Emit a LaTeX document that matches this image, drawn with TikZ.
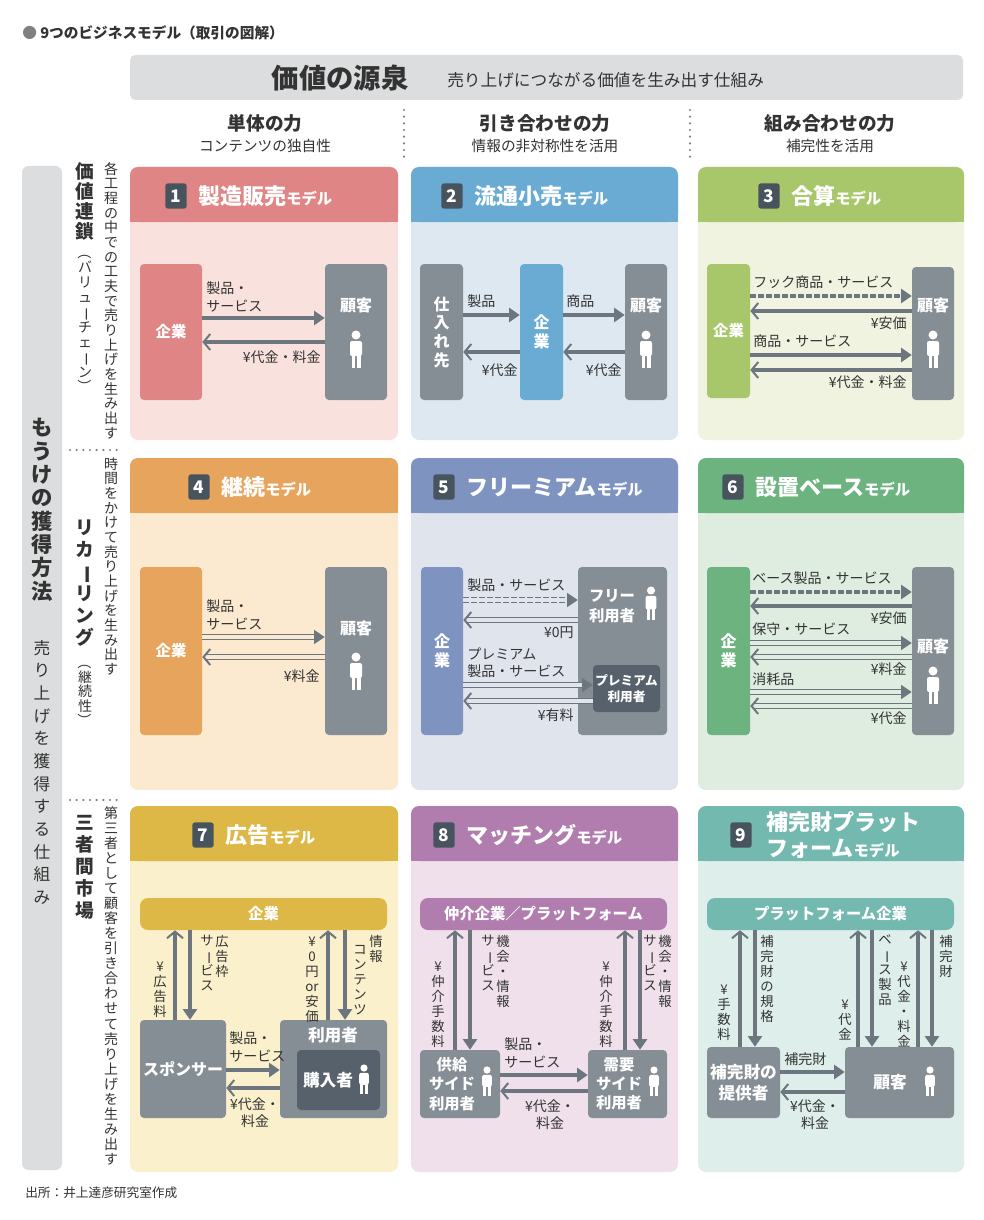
\documentclass[tikz,border=0pt]{standalone}
\usepackage{fontspec}
\usepackage{graphicx}
\setmainfont{Noto Sans CJK JP}
\usetikzlibrary{arrows.meta}
\definecolor{txt}{HTML}{333333}
\definecolor{gbar}{HTML}{DCDDDE}
\definecolor{gbx}{HTML}{858E95}
\definecolor{arc}{HTML}{6D767E}
\definecolor{bdg}{HTML}{47535D}
\definecolor{dk}{HTML}{56616B}
\definecolor{h1}{HTML}{E08585}\definecolor{b1}{HTML}{F9E2DE}
\definecolor{h2}{HTML}{6AABD4}\definecolor{b2}{HTML}{DDE8F0}
\definecolor{h3}{HTML}{A8C66A}\definecolor{b3}{HTML}{EFF3E0}
\definecolor{h4}{HTML}{E6A45C}\definecolor{b4}{HTML}{FBE9D0}
\definecolor{h5}{HTML}{7F93C0}\definecolor{b5}{HTML}{E0E4ED}
\definecolor{h6}{HTML}{6CB37F}\definecolor{b6}{HTML}{DEEDE0}
\definecolor{h7}{HTML}{DDB846}\definecolor{b7}{HTML}{FBF0CC}
\definecolor{h8}{HTML}{B07DAE}\definecolor{b8}{HTML}{EFE0EB}
\definecolor{h9}{HTML}{73B9AF}\definecolor{b9}{HTML}{DEEEEA}
\ExplSyntaxOn
\bool_new:N \g_my_first_bool
\NewDocumentCommand\vt{m}{
 \bool_gset_true:N \g_my_first_bool
 \tl_map_inline:nn {#1} {
  \bool_if:NF \g_my_first_bool {\\}
  \bool_gset_false:N \g_my_first_bool
  \str_case:nnF {##1} { {ー}{\rotatebox[origin=c]{-90}{ー}} {（}{\rotatebox[origin=c]{-90}{（}} {）}{\rotatebox[origin=c]{-90}{）}} } {##1}
 }
}
\ExplSyntaxOff
\newcommand\mdl{{\fontsize{11.5}{13}\selectfont モデル}}
\newcommand\bx[7]{\node[#6, minimum width={(#4-#2)*0.75pt}, minimum height={(#5-#3)*0.75pt}] (#1) at ({(#2+#4)/2},{(#3+#5)/2}) {#7};}
\tikzset{
 bxs/.style={rounded corners=3pt, inner sep=0pt, text=white, font=\bfseries\fontsize{11.5}{13}\selectfont, align=center},
 bt/.style={inner sep=0pt, text=white, font=\bfseries\fontsize{12}{14}\selectfont, align=center},
 lab/.style={inner sep=0pt, font=\fontsize{10.5}{13}\selectfont, text=txt, align=left},
 vlab/.style={inner sep=0pt, anchor=north, font=\fontsize{10}{11.2}\selectfont, text=txt, align=center},
 arr/.style={draw=arc, line width=3pt},
 rt/.style={-{Triangle[length=8pt,width=10.5pt]}},
 lt/.style={{Straight Barb[length=5pt,width=12pt,line width=1.5pt]}-},
 dbl/.style={line width=1.1pt, double=#1, double distance=2.6pt},
 dsh/.style={dash pattern=on 4pt off 2pt},
 ttl/.style={inner sep=0pt, anchor=west, text=white, font=\bfseries\fontsize{16.5}{19}\selectfont, align=left},
 badge/.style={fill=bdg, text=white, font=\bfseries\fontsize{13}{15}\selectfont, minimum width=16pt, minimum height=19pt, rounded corners=2pt, inner sep=0pt},
 person/.pic={\fill[white] (0,-15) circle (4.5); \fill[white,rounded corners=1.5] (-6,-9) rectangle (6,6); \fill[white] (-4.5,4) rectangle (-1,18); \fill[white] (1,4) rectangle (4.5,18);},
 dots/.style={draw=gray, line width=1.8pt, dash pattern=on 0pt off 5pt, line cap=round},
}
\newcommand\panel[6]{%
 \fill[#6, rounded corners=6] (#1,#2) rectangle (#3,#5);
 \fill[#4!100, rounded corners=6] (#1,#2) rectangle (#3,#2+55);
 \fill[#4] (#1,#2+30) rectangle (#3,#2+55);}
\begin{document}
\begin{tikzpicture}[x=0.75pt,y=-0.75pt]
\useasboundingbox (0,0) rectangle (984,1220);
\fill[white] (0,0) rectangle (984,1220);
% title
\node[anchor=west, inner sep=0pt, font=\bfseries\fontsize{11}{13}\selectfont, text=txt] (ttl) at (22,33) {{\color{gray}●} 9つのビジネスモデル（取引の図解）};
% header
\fill[gbar, rounded corners=4] (130,55) rectangle (963,100);
\node[inner sep=0pt, font=\bfseries\fontsize{20.5}{23}\selectfont, text=txt] (hd1) at (340,78) {価値の源泉};
\node[anchor=west, inner sep=0pt, font=\fontsize{12.5}{15}\selectfont, text=txt] (hd2) at (447,80) {売り上げにつながる価値を生み出す仕組み};
\node[inner sep=0pt, font=\bfseries\fontsize{14}{16}\selectfont, text=txt] (c1a) at (265,123) {単体の力};
\node[inner sep=0pt, font=\fontsize{11}{13}\selectfont, text=txt] (c1b) at (265,146) {コンテンツの独自性};
\node[inner sep=0pt, font=\bfseries\fontsize{14}{16}\selectfont, text=txt] (c2a) at (545,123) {引き合わせの力};
\node[inner sep=0pt, font=\fontsize{11}{13}\selectfont, text=txt] (c2b) at (545,146) {情報の非対称性を活用};
\node[inner sep=0pt, font=\bfseries\fontsize{14}{16}\selectfont, text=txt] (c3a) at (830,123) {組み合わせの力};
\node[inner sep=0pt, font=\fontsize{11}{13}\selectfont, text=txt] (c3b) at (830,146) {補完性を活用};
\draw[dots] (404,110) -- (404,160);
\draw[dots] (690,110) -- (690,160);
\draw[dots] (70,450) -- (120,450);
\draw[dots] (70,800) -- (120,800);
% left bar
\fill[gbar, rounded corners=5] (22,166) rectangle (62,1170);
\node[inner sep=0pt, anchor=north, align=center, text=txt, font=\bfseries\fontsize{16}{17.5}\selectfont] (lb1) at (42,418) {\vt{もうけの獲得方法}};
\node[inner sep=0pt, anchor=north, align=center, text=txt, font=\fontsize{12.5}{17}\selectfont] (lb2) at (42,640) {\vt{売り上げを獲得する仕組み}};
% row labels
\node[inner sep=0pt, anchor=north, align=center, text=txt, font=\bfseries\fontsize{14}{15}\selectfont] (r1a) at (85,162) {\vt{価値連鎖}};
\node[inner sep=0pt, anchor=north, align=center, text=txt, font=\fontsize{10.5}{11.2}\selectfont] (r1b) at (85,245) {\vt{（バリューチェーン）}};
\node[inner sep=0pt, anchor=north, align=center, text=txt, font=\fontsize{10.5}{11}\selectfont] (r1c) at (111,162) {\vt{各工程の中での工夫で売り上げを生み出す}};
\node[inner sep=0pt, anchor=north, align=center, text=txt, font=\bfseries\fontsize{14}{16.5}\selectfont] (r2a) at (85,520) {\vt{リカーリング}};
\node[inner sep=0pt, anchor=north, align=center, text=txt, font=\fontsize{10.5}{11}\selectfont] (r2b) at (85,655) {\vt{（継続性）}};
\node[inner sep=0pt, anchor=north, align=center, text=txt, font=\fontsize{10.5}{11}\selectfont] (r2c) at (111,457) {\vt{時間をかけて売り上げを生み出す}};
\node[inner sep=0pt, anchor=north, align=center, text=txt, font=\bfseries\fontsize{14}{16.5}\selectfont] (r3a) at (85,815) {\vt{三者間市場}};
\node[inner sep=0pt, anchor=north, align=center, text=txt, font=\fontsize{10.5}{11.3}\selectfont] (r3c) at (111,806) {\vt{第三者として顧客を引き合わせて売り上げを生み出す}};
% panels
\panel{130}{167}{398}{h1}{440}{b1}
\panel{411}{167}{678}{h2}{440}{b2}
\panel{698}{167}{964}{h3}{440}{b3}
\panel{130}{458}{398}{h4}{790}{b4}
\panel{411}{458}{678}{h5}{790}{b5}
\panel{698}{458}{964}{h6}{790}{b6}
\panel{130}{806}{398}{h7}{1172}{b7}
\panel{411}{806}{678}{h8}{1172}{b8}
\panel{698}{806}{964}{h9}{1172}{b9}
% titles
\node[badge] (g1) at (176,196) {1}; \node[ttl] (t1) at (198,196) {製造販売\mdl};
\node[badge] (g2) at (452,196) {2}; \node[ttl] (t2) at (474,196) {流通小売\mdl};
\node[badge] (g3) at (769,196) {3}; \node[ttl] (t3) at (791,196) {合算\mdl};
\node[badge] (g4) at (199,487) {4}; \node[ttl] (t4) at (221,487) {継続\mdl};
\node[badge] (g5) at (444,487) {5}; \node[ttl] (t5) at (466,487) {フリーミアム\mdl};
\node[badge] (g6) at (733,487) {6}; \node[ttl] (t6) at (755,487) {設置ベース\mdl};
\node[badge] (g7) at (203,835) {7}; \node[ttl] (t7) at (225,835) {広告\mdl};
\node[badge] (g8) at (444,835) {8}; \node[ttl] (t8) at (466,835) {マッチング\mdl};
\node[badge] (g9) at (741,835) {9}; \node[ttl] (t9) at (766,835) {補完財プラット\\フォーム\mdl};
% ---- panel 1
\bx{p1a}{140}{264}{202}{400}{bxs,fill=h1}{企業}
\bx{p1b}{325}{264}{387}{400}{bxs,fill=gbx}{}
\node[bt] (p1bt) at (356,305) {顧客};
\pic at (356,350) {person};
\draw[arr,rt] (p1a.east |- 0,318) -- (p1b.west |- 0,318);
\draw[arr,lt] (p1a.east |- 0,342) -- (p1b.west |- 0,342);
\node[lab,anchor=south west] (l11) at (206,312) {製品・\\サービス};
\node[lab,anchor=north east] (l12) at (321,350) {¥代金・料金};
% ---- panel 2
\bx{p2a}{420}{264}{463}{400}{bxs,fill=gbx,font=\bfseries\fontsize{12}{14}\selectfont}{\vt{仕入れ先}}
\bx{p2b}{520}{264}{563}{400}{bxs,fill=h2,font=\bfseries\fontsize{12}{14}\selectfont}{\vt{企業}}
\bx{p2c}{625}{264}{667}{400}{bxs,fill=gbx}{}
\node[bt] (p2ct) at (646,305) {顧客};
\pic at (646,350) {person};
\draw[arr,rt] (p2a.east |- 0,315) -- (p2b.west |- 0,315);
\draw[arr,rt] (p2b.east |- 0,315) -- (p2c.west |- 0,315);
\draw[arr,lt] (p2a.east |- 0,352) -- (p2b.west |- 0,352);
\draw[arr,lt] (p2b.east |- 0,352) -- (p2c.west |- 0,352);
\node[lab,anchor=south west] (l21) at (467,308) {製品};
\node[lab,anchor=south west] (l22) at (566,308) {商品};
\node[lab,anchor=north east] (l23) at (518,363) {¥代金};
\node[lab,anchor=north east] (l24) at (622,363) {¥代金};
% ---- panel 3
\bx{p3a}{707}{264}{750}{398}{bxs,fill=h3}{企業}
\bx{p3b}{912}{267}{954}{400}{bxs,fill=gbx}{}
\node[bt] (p3bt) at (933,305) {顧客};
\pic at (933,350) {person};
\draw[arr,rt,dsh] (p3a.east |- 0,296) -- (p3b.west |- 0,296);
\draw[arr,lt] (p3a.east |- 0,311) -- (p3b.west |- 0,311);
\draw[arr,rt] (p3a.east |- 0,355) -- (p3b.west |- 0,355);
\draw[arr,lt] (p3a.east |- 0,370) -- (p3b.west |- 0,370);
\node[lab,anchor=south west] (l31) at (753,289) {フック商品・サービス};
\node[lab,anchor=north east] (l32) at (907,316) {¥安価};
\node[lab,anchor=south west] (l33) at (753,348) {商品・サービス};
\node[lab,anchor=north east] (l34) at (907,375) {¥代金・料金};
% ---- panel 4
\bx{p4a}{140}{567}{202}{735}{bxs,fill=h4}{企業}
\bx{p4b}{325}{567}{387}{735}{bxs,fill=gbx}{}
\node[bt] (p4bt) at (356,628) {顧客};
\pic at (356,672) {person};
\draw[arr,rt,dbl=b4] (p4a.east |- 0,637) -- (p4b.west |- 0,637);
\draw[arr,lt,dbl=b4] (p4a.east |- 0,657) -- (p4b.west |- 0,657);
\node[lab,anchor=south west] (l41) at (206,630) {製品・\\サービス};
\node[lab,anchor=north east] (l42) at (320,669) {¥料金};
% ---- panel 5
\bx{p5a}{421}{567}{463}{735}{bxs,fill=h5,font=\bfseries\fontsize{12}{14}\selectfont}{\vt{企業}}
\bx{p5b}{578}{567}{667}{735}{bxs,fill=gbx}{}
\node[bt,font=\bfseries\fontsize{11.5}{15}\selectfont] (p5bt) at (612,606) {フリー\\利用者};
\pic[scale=0.9] at (651,604) {person};
\bx{p5c}{593}{665}{660}{712}{bxs,fill=dk,font=\bfseries\fontsize{9.5}{12}\selectfont}{プレミアム\\利用者}
\draw[arr,rt,dbl=b5,dsh] (p5a.east |- 0,600) -- (p5b.west |- 0,600);
\draw[arr,lt,dbl=b5] (p5a.east |- 0,620) -- (p5b.west |- 0,620);
\draw[arr,rt,dbl=b5] (p5a.east |- 0,685) -- (p5c.west |- 0,685);
\draw[arr,lt,dbl=b5] (p5a.east |- 0,701) -- (p5c.west |- 0,701);
\node[lab,anchor=south west] (l51) at (467,592) {製品・サービス};
\node[lab,anchor=north east] (l52) at (574,626) {¥0円};
\node[lab,anchor=south west] (l53) at (467,678) {プレミアム\\製品・サービス};
\node[lab,anchor=north east] (l54) at (574,708) {¥有料};
% ---- panel 6
\bx{p6a}{707}{567}{750}{735}{bxs,fill=h6,font=\bfseries\fontsize{12}{14}\selectfont}{\vt{企業}}
\bx{p6b}{912}{567}{954}{735}{bxs,fill=gbx}{}
\node[bt] (p6bt) at (933,646) {顧客};
\pic at (933,686) {person};
\draw[arr,rt,dsh] (p6a.east |- 0,592) -- (p6b.west |- 0,592);
\draw[arr,lt] (p6a.east |- 0,606) -- (p6b.west |- 0,606);
\draw[arr,rt,dbl=b6] (p6a.east |- 0,643) -- (p6b.west |- 0,643);
\draw[arr,lt,dbl=b6] (p6a.east |- 0,657) -- (p6b.west |- 0,657);
\draw[arr,rt,dbl=b6] (p6a.east |- 0,692) -- (p6b.west |- 0,692);
\draw[arr,lt,dbl=b6] (p6a.east |- 0,706) -- (p6b.west |- 0,706);
\node[lab,anchor=south west] (l61) at (752,585) {ベース製品・サービス};
\node[lab,anchor=north east] (l62) at (907,611) {¥安価};
\node[lab,anchor=south west] (l63) at (752,636) {保守・サービス};
\node[lab,anchor=north east] (l64) at (907,662) {¥料金};
\node[lab,anchor=south west] (l65) at (752,686) {消耗品};
\node[lab,anchor=north east] (l66) at (907,711) {¥代金};
% ---- panel 7
\bx{p7t}{140}{898}{387}{930}{bxs,fill=h7,rounded corners=6pt}{企業}
\bx{p7s}{140}{1020}{226}{1118}{bxs,fill=gbx,font=\bfseries\fontsize{12}{14}\selectfont}{スポンサー}
\bx{p7u}{280}{1020}{387}{1118}{bxs,fill=gbx}{}
\node[bt,font=\bfseries\fontsize{12.5}{14}\selectfont] (p7ut) at (333,1035) {利用者};
\bx{p7k}{297}{1050}{380}{1110}{bxs,fill=dk}{}
\node[bt,font=\bfseries\fontsize{12.5}{14}\selectfont] (p7kt) at (328,1080) {購入者};
\pic[scale=0.8] at (364,1080) {person};
\draw[arr,lt] (175,0 |- p7t.south) -- (175,0 |- p7s.north);
\draw[arr,rt] (190,0 |- p7t.south) -- (190,0 |- p7s.north);
\draw[arr,lt] (328,0 |- p7t.south) -- (328,0 |- p7u.north);
\draw[arr,rt] (345,0 |- p7t.south) -- (345,0 |- p7u.north);
\draw[arr,rt] (p7s.east |- 0,1070) -- (p7u.west |- 0,1070);
\draw[arr,lt] (p7s.east |- 0,1088) -- (p7u.west |- 0,1088);
\node[vlab] (v71) at (160,962) {\vt{¥広告料}};
\node[vlab] (v72) at (222,935) {\vt{広告枠}};
\node[vlab] (v73) at (207,935) {\vt{サービス}};
\node[vlab] (v74) at (312,937) {\vt{¥0円{or}安価}};
\node[vlab] (v75) at (360,945) {\vt{コンテンツ}};
\node[vlab] (v76) at (376,935) {\vt{情報}};
\node[lab,anchor=south west] (l71) at (229,1062) {製品・\\サービス};
\node[lab,anchor=north,align=center] (l72) at (255,1097) {¥代金・\\料金};
% ---- panel 8
\bx{p8t}{420}{898}{667}{930}{bxs,fill=h8,rounded corners=6pt}{仲介企業／プラットフォーム}
\bx{p8s}{420}{1050}{500}{1118}{bxs,fill=gbx}{}
\node[bt,font=\bfseries\fontsize{11.5}{14.5}\selectfont] (p8st) at (452,1084) {供給\\サイド\\利用者};
\pic[scale=0.8] at (487,1082) {person};
\bx{p8d}{588}{1050}{667}{1118}{bxs,fill=gbx}{}
\node[bt,font=\bfseries\fontsize{11.5}{14.5}\selectfont] (p8dt) at (619,1084) {需要\\サイド\\利用者};
\pic[scale=0.8] at (654,1082) {person};
\draw[arr,lt] (455,0 |- p8t.south) -- (455,0 |- p8s.north);
\draw[arr,rt] (470,0 |- p8t.south) -- (470,0 |- p8s.north);
\draw[arr,lt] (625,0 |- p8t.south) -- (625,0 |- p8d.north);
\draw[arr,rt] (640,0 |- p8t.south) -- (640,0 |- p8d.north);
\draw[arr,rt] (p8s.east |- 0,1075) -- (p8d.west |- 0,1075);
\draw[arr,lt] (p8s.east |- 0,1091) -- (p8d.west |- 0,1091);
\node[vlab] (v81) at (438,962) {\vt{¥仲介手数料}};
\node[vlab] (v82) at (503,935) {\vt{機会・情報}};
\node[vlab] (v83) at (488,935) {\vt{サービス}};
\node[vlab] (v84) at (606,962) {\vt{¥仲介手数料}};
\node[vlab] (v85) at (665,935) {\vt{機会・情報}};
\node[vlab] (v86) at (650,935) {\vt{サービス}};
\node[lab,anchor=south west] (l81) at (504,1068) {製品・\\サービス};
\node[lab,anchor=north,align=center] (l82) at (550,1099) {¥代金・\\料金};
% ---- panel 9
\bx{p9t}{707}{898}{954}{930}{bxs,fill=h9,rounded corners=6pt}{プラットフォーム企業}
\bx{p9p}{707}{1047}{780}{1118}{bxs,fill=gbx,font=\bfseries\fontsize{12.5}{15.5}\selectfont}{補完財の\\提供者}
\bx{p9c}{845}{1047}{954}{1118}{bxs,fill=gbx}{}
\node[bt,font=\bfseries\fontsize{12.5}{14}\selectfont] (p9ct) at (890,1082) {顧客};
\pic[scale=0.8] at (930,1082) {person};
\draw[arr,lt] (740,0 |- p9t.south) -- (740,0 |- p9p.north);
\draw[arr,rt] (755,0 |- p9t.south) -- (755,0 |- p9p.north);
\draw[arr,lt] (858,0 |- p9t.south) -- (858,0 |- p9c.north);
\draw[arr,rt] (872,0 |- p9t.south) -- (872,0 |- p9c.north);
\draw[arr,lt] (918,0 |- p9t.south) -- (918,0 |- p9c.north);
\draw[arr,rt] (932,0 |- p9t.south) -- (932,0 |- p9c.north);
\draw[arr,rt] (p9p.east |- 0,1072) -- (p9c.west |- 0,1072);
\draw[arr,lt] (p9p.east |- 0,1092) -- (p9c.west |- 0,1092);
\node[vlab] (v91) at (724,985) {\vt{¥手数料}};
\node[vlab] (v92) at (767,935) {\vt{補完財の規格}};
\node[vlab] (v93) at (845,1000) {\vt{¥代金}};
\node[vlab] (v94) at (885,935) {\vt{ベース製品}};
\node[vlab] (v95) at (904,962) {\vt{¥代金・料金}};
\node[vlab] (v96) at (946,935) {\vt{補完財}};
\node[lab,anchor=south west] (l91) at (784,1066) {補完財};
\node[lab,anchor=north,align=center] (l92) at (815,1099) {¥代金・\\料金};
% source
\node[anchor=west, inner sep=0pt, font=\fontsize{9.5}{12}\selectfont, text=txt] (src) at (25,1193) {出所：井上達彦研究室作成};
\end{tikzpicture}
\end{document}
